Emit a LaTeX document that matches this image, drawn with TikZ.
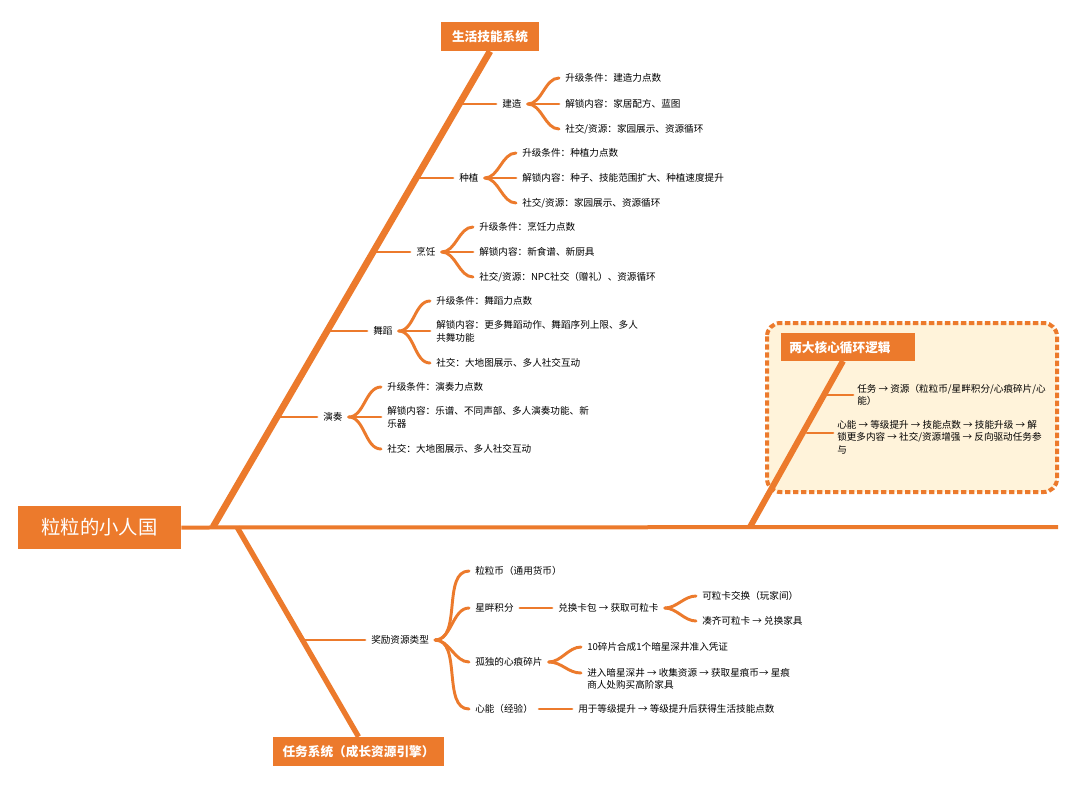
\documentclass[tikz,border=0pt]{standalone}
\usepackage{fontspec}
\setmainfont{Noto Sans CJK SC}
\usetikzlibrary{calc}
\definecolor{org}{HTML}{EC7A2C}
\definecolor{pale}{HTML}{FFF3DA}
\begin{document}
\begin{tikzpicture}[x=0.75pt,y=-0.75pt,
  t/.style={anchor=west,inner sep=0pt,font=\fontsize{7.2}{9.5}\selectfont,align=left},
  box/.style={fill=org,text=white,inner sep=0pt,font=\bfseries\fontsize{9.5}{11}\selectfont},
  br/.style={draw=org,line width=2.2pt,line cap=round},
  dg/.style={draw=org,line width=4.5pt}]
\fill[white] (0,0) rectangle (1080,794);
\useasboundingbox (0,0) rectangle (1080,794);
% core box
\draw[org,fill=pale,line width=3pt,dash pattern=on 4pt off 2pt,rounded corners=10pt] (767,323) rectangle (1057,492);
% root
\node[box,minimum width=163*0.75pt,minimum height=43*0.75pt,font=\fontsize{14.5}{16}\selectfont] (root) at (99.5,527.5) {粒粒的小人国};
\coordinate (spE) at (1058,527);
\draw[org,line width=3pt] (root.east) -- (spE);
% top boxes
\node[box,minimum width=98*0.75pt,minimum height=29*0.75pt] (life) at (490,36.5) {生活技能系统};
\node[box,minimum width=171*0.75pt,minimum height=29*0.75pt] (task) at (358.5,751.5) {任务系统（成长资源引擎）};
\node[box,minimum width=111*0.75pt,minimum height=28*0.75pt,anchor=north west] (core) at (781,333) {\hspace*{6pt}两大核心循环逻辑\hspace*{18pt}};
\coordinate (d1) at (213,527);
\coordinate (d2) at (237,527);
\coordinate (d3) at (750,527);
\draw[org,line width=5pt] (d1) -- (life.south);
\draw[org,line width=4pt] (d2) -- (task.north);
\draw[org,line width=4.5pt] (d3) -- (843,361);
% upper subbranches
\foreach \n/\lab/\y/\xa/\xl in {jz/建造/104/461/502, zz/种植/178/418/459, pr/烹饪/252/374/416, wd/舞蹈/331/328/373, yz/演奏/417/278/323}{
  \node[t] (\n) at (\xl,\y) {\lab};
  \coordinate (\n a) at (\xa,\y);
  \draw[br] (\n a) -- ($(\n.west)+(-6,0)$);
}
\newcommand\mykid[3]{\node[t] (#2) at #3 {#1};}
\newcommand\mybrc[2]{\draw[br] ($(#1.east)+(6,0)$) to[out=0,in=180,looseness=0.9] ($(#2.west)+(-6,0)$);}
% 建造
\mykid{升级条件：建造力点数}{jz1}{(565,78)}
\mykid{解锁内容：家居配方、蓝图}{jz2}{(565,104)}
\mykid{社交/资源：家园展示、资源循环}{jz3}{(565,129)}
\mybrc{jz}{jz1}\mybrc{jz}{jz2}\mybrc{jz}{jz3}
\mykid{升级条件：种植力点数}{zz1}{(522,153)}
\mykid{解锁内容：种子、技能范围扩大、种植速度提升}{zz2}{(522,178)}
\mykid{社交/资源：家园展示、资源循环}{zz3}{(522,203)}
\mybrc{zz}{zz1}\mybrc{zz}{zz2}\mybrc{zz}{zz3}
\mykid{升级条件：烹饪力点数}{pr1}{(479,227)}
\mykid{解锁内容：新食谱、新厨具}{pr2}{(479,252)}
\mykid{社交/资源：\textit{NPC}社交（赠礼）、资源循环}{pr3}{(479,277)}
\mybrc{pr}{pr1}\mybrc{pr}{pr2}\mybrc{pr}{pr3}
\mykid{升级条件：舞蹈力点数}{wd1}{(436,301)}
\mykid{解锁内容：更多舞蹈动作、舞蹈序列上限、多人\\共舞功能}{wd2}{(436,331)}
\mykid{社交：大地图展示、多人社交互动}{wd3}{(436,363)}
\mybrc{wd}{wd1}\draw[br] ($(wd.east)+(6,0)$) -- ($(wd2.west)+(-6,0)$);\mybrc{wd}{wd3}
\mykid{升级条件：演奏力点数}{yz1}{(387,387)}
\mykid{解锁内容：乐谱、不同声部、多人演奏功能、新\\乐器}{yz2}{(387,417)}
\mykid{社交：大地图展示、多人社交互动}{yz3}{(387,449)}
\mybrc{yz}{yz1}\draw[br] ($(yz.east)+(6,0)$) -- ($(yz2.west)+(-6,0)$);\mybrc{yz}{yz3}
% lower
\coordinate (jla) at (302,640);
\node[t] (jl) at (371,640) {奖励资源类型};
\draw[br] (jla) -- ($(jl.west)+(-6,0)$);
\mykid{粒粒币（通用货币）}{r1}{(475,571)}
\mykid{星畔积分}{r2}{(475,608)}
\mykid{孤独的心痕碎片}{r3}{(475,662)}
\mykid{心能（经验）}{r4}{(475,709)}
\mybrc{jl}{r1}\mybrc{jl}{r2}\mybrc{jl}{r3}\mybrc{jl}{r4}
\mykid{兑换卡包 → 获取可粒卡}{s1}{(558,608)}
\draw[br] ($(r2.east)+(6,0)$) -- ($(s1.west)+(-6,0)$);
\mykid{可粒卡交换（玩家间）}{s11}{(702,596)}
\mykid{凑齐可粒卡 → 兑换家具}{s12}{(702,621)}
\mybrc{s1}{s11}\mybrc{s1}{s12}
\mykid{\textit{10}碎片合成\textit{1}个暗星深井准入凭证}{h1}{(587,647)}
\mykid{进入暗星深井 → 收集资源 → 获取星痕币→ 星痕\\商人处购买高阶家具}{h2}{(587,679)}
\mybrc{r3}{h1}\draw[br] ($(r3.east)+(6,0)$) to[out=0,in=180] ($(h2.west)+(-6,-6)$);
\mykid{用于等级提升 → 等级提升后获得生活技能点数}{x1}{(578,709)}
\draw[br] ($(r4.east)+(6,0)$) -- ($(x1.west)+(-6,0)$);
% core
\coordinate (c1a) at (825,395);
\coordinate (c2a) at (807,433);
\mykid{任务 → 资源（粒粒币/星畔积分/心痕碎片/心\\能）}{c1}{(857,395)}
\mykid{心能 → 等级提升 → 技能点数 → 技能升级 → 解\\锁更多内容 → 社交/资源增强 → 反向驱动任务参\\与}{c2}{(837,437)}
\draw[br] (c1a) -- ($(c1.west)+(-4,0)$);
\draw[br] (c2a) -- ($(c2.west)+(-4,-4)$);
\end{tikzpicture}
\end{document}
